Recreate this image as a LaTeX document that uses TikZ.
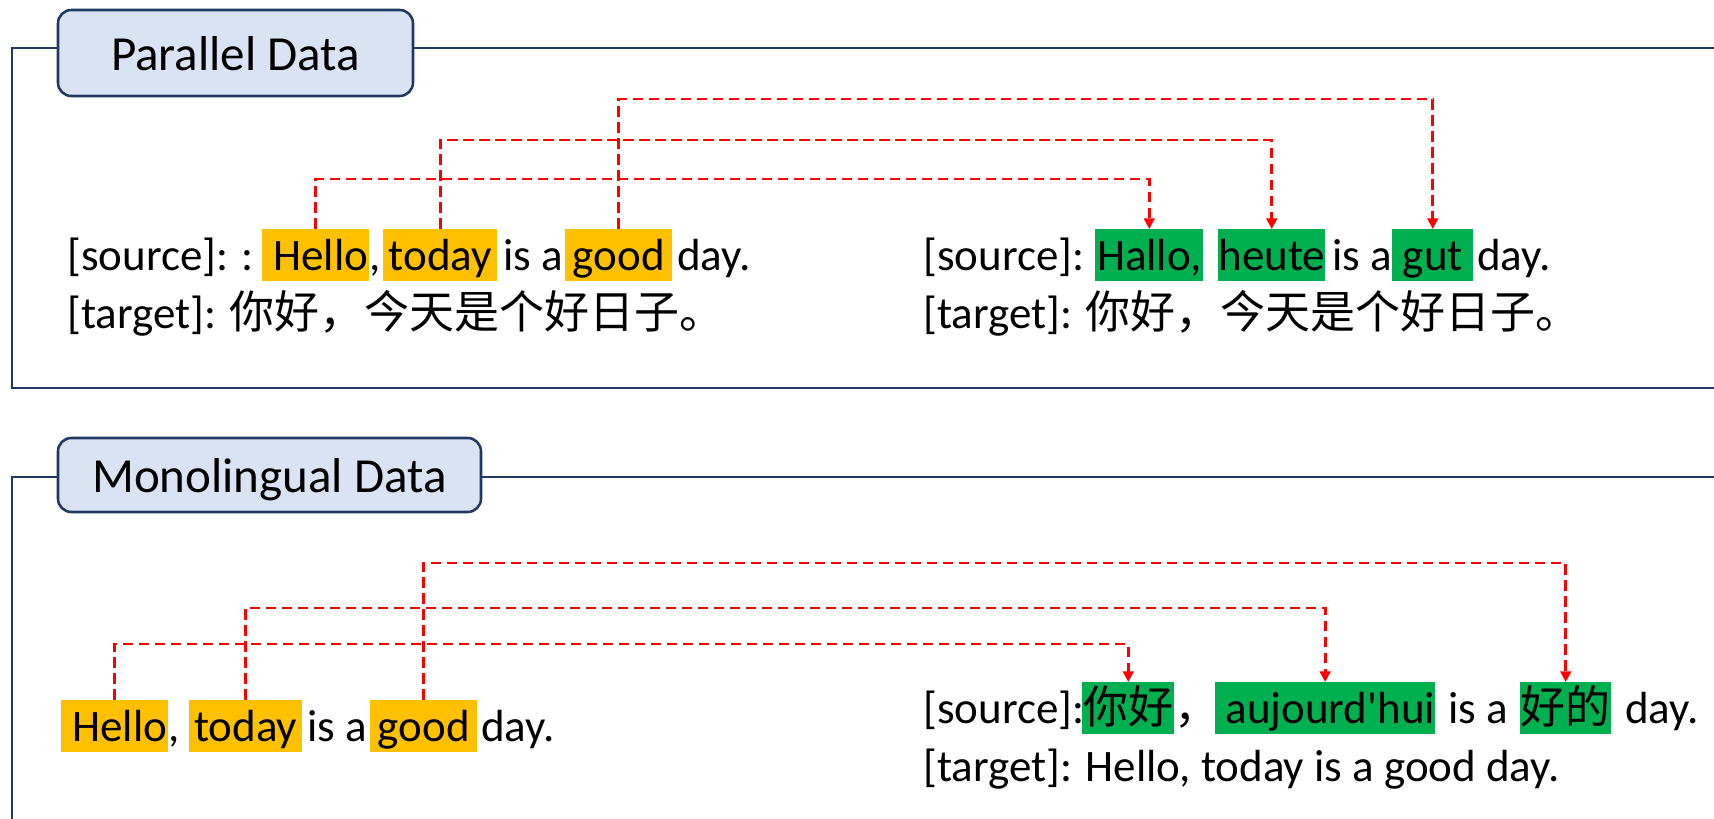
\documentclass[tikz,border=0pt]{standalone}
\usepackage{fontspec}
\setmainfont{Carlito}
\newfontfamily\cjk{Noto Sans CJK SC}
\usetikzlibrary{arrows.meta}
\definecolor{navy}{HTML}{1F3864}
\definecolor{lblue}{HTML}{DAE3F3}
\definecolor{hlorange}{HTML}{FFC000}
\definecolor{hlgreen}{HTML}{00B050}
\tikzset{
  frameline/.style={draw=navy, line width=1.8pt},
  labelbox/.style={draw=navy, fill=lblue, line width=1.9pt, rounded corners=10pt, inner sep=0pt,
    text height=25.5pt, text depth=0pt, font=\fontsize{36.75}{44}\selectfont},
  body/.style={inner sep=0pt, anchor=base west, font=\fontsize{33.75}{40}\selectfont},
  hl/.style={inner sep=0pt, anchor=north west, text height=30.75pt, text depth=8.25pt, font=\fontsize{33.75}{40}\selectfont},
  hlo/.style={hl, fill=hlorange},
  hlg/.style={hl, fill=hlgreen},
  link/.style={draw=red, line width=2.2pt, dash pattern=on 8pt off 4pt, -{Triangle[width=8pt,length=8pt]}},
}
\begin{document}
\begin{tikzpicture}[x=0.75pt,y=-0.75pt]
\useasboundingbox (0,0) rectangle (1714,818);
\fill[white] (0,0) rectangle (1714,818);

% ---------- Parallel Data frame ----------
\draw[frameline] (1720,48) -- (12,48) -- (12,388) -- (1720,388);
\node[labelbox, minimum width=355*0.75pt, minimum height=86*0.75pt] (L1) at (235.5,53) {Parallel Data};

% left pair
\node[body] (s1) at (67,270) {[source]: :};
\node[hlo, minimum width=107*0.75pt] (a1) at (262,229) {\ Hello};
\node[body] (c1) at (a1.base east) {,};
\node[hlo, minimum width=114*0.75pt] (a2) at (383,229) {today\ };
\node[body] (c2) at (503,270) {is a};
\node[hlo, minimum width=107*0.75pt] (a3) at (565,229) {good};
\node[body] (c3) at (677,270) {day.};
\node[body] (t1) at (67,328) {[target]: {\cjk 你好，今天是个好日子。}};

% right pair
\node[body] (s2) at (923,270) {[source]:};
\node[hlg, minimum width=108*0.75pt] (b1) at (1095,229) {Hallo,};
\node[hlg, minimum width=107*0.75pt] (b2) at (1218,229) {heute};
\node[body] (d2) at (1332,270) {is a};
\node[hlg, minimum width=81*0.75pt] (b3) at (1392,229) {gut};
\node[body] (d3) at (1477,270) {day.};
\node[body] (t2) at (923,328) {[target]: {\cjk 你好，今天是个好日子。}};

\coordinate (ya) at (0,179);
\coordinate (yb) at (0,140);
\coordinate (yc) at (0,99);
\draw[link] (a1.north) -- (a1.north |- ya) -| (b1.north);
\draw[link] (a2.north) -- (a2.north |- yb) -| (b2.north);
\draw[link] (a3.north) -- (a3.north |- yc) -| (b3.north);

% ---------- Monolingual Data frame ----------
\draw[frameline] (1720,477) -- (12,477) -- (12,830);
\node[labelbox, minimum width=423*0.75pt, minimum height=74*0.75pt] (L2) at (269.5,475) {Monolingual Data};

\node[hlo, minimum width=107*0.75pt] (e1) at (61,700) {\ Hello};
\node[body] (f1) at (e1.base east) {,};
\node[hlo, minimum width=113*0.75pt] (e2) at (189,700) {today\ };
\node[body] (f2) at (307,741) {is a};
\node[hlo, minimum width=107*0.75pt] (e3) at (370,700) {good};
\node[body] (f3) at (481,741) {day.};

\node[body] (s4) at (923,723) {[source]:};
\node[hlg, minimum width=92*0.75pt] (g1) at (1082,682) {\cjk 你好};
\node[body] (k1) at (g1.base east) {\cjk ，};
\node[hlg, minimum width=218*0.75pt] (g2) at (1215,682) {\ aujourd\textquotesingle hui};
\node[body] (k2) at (1448,723) {is a};
\node[hlg, minimum width=91*0.75pt] (g3) at (1520,682) {\cjk 好的};
\node[body] (k3) at (1625,723) {day.};
\node[body] (t4) at (923,781) {[target]: Hello, today is a good day.};

\coordinate (yd) at (0,644);
\coordinate (ye) at (0,608);
\coordinate (yf) at (0,563);
\draw[link] (e1.north) -- (e1.north |- yd) -| (g1.north);
\draw[link] (e2.north) -- (e2.north |- ye) -| (g2.north);
\draw[link] (e3.north) -- (e3.north |- yf) -| (g3.north);
\end{tikzpicture}
\end{document}
